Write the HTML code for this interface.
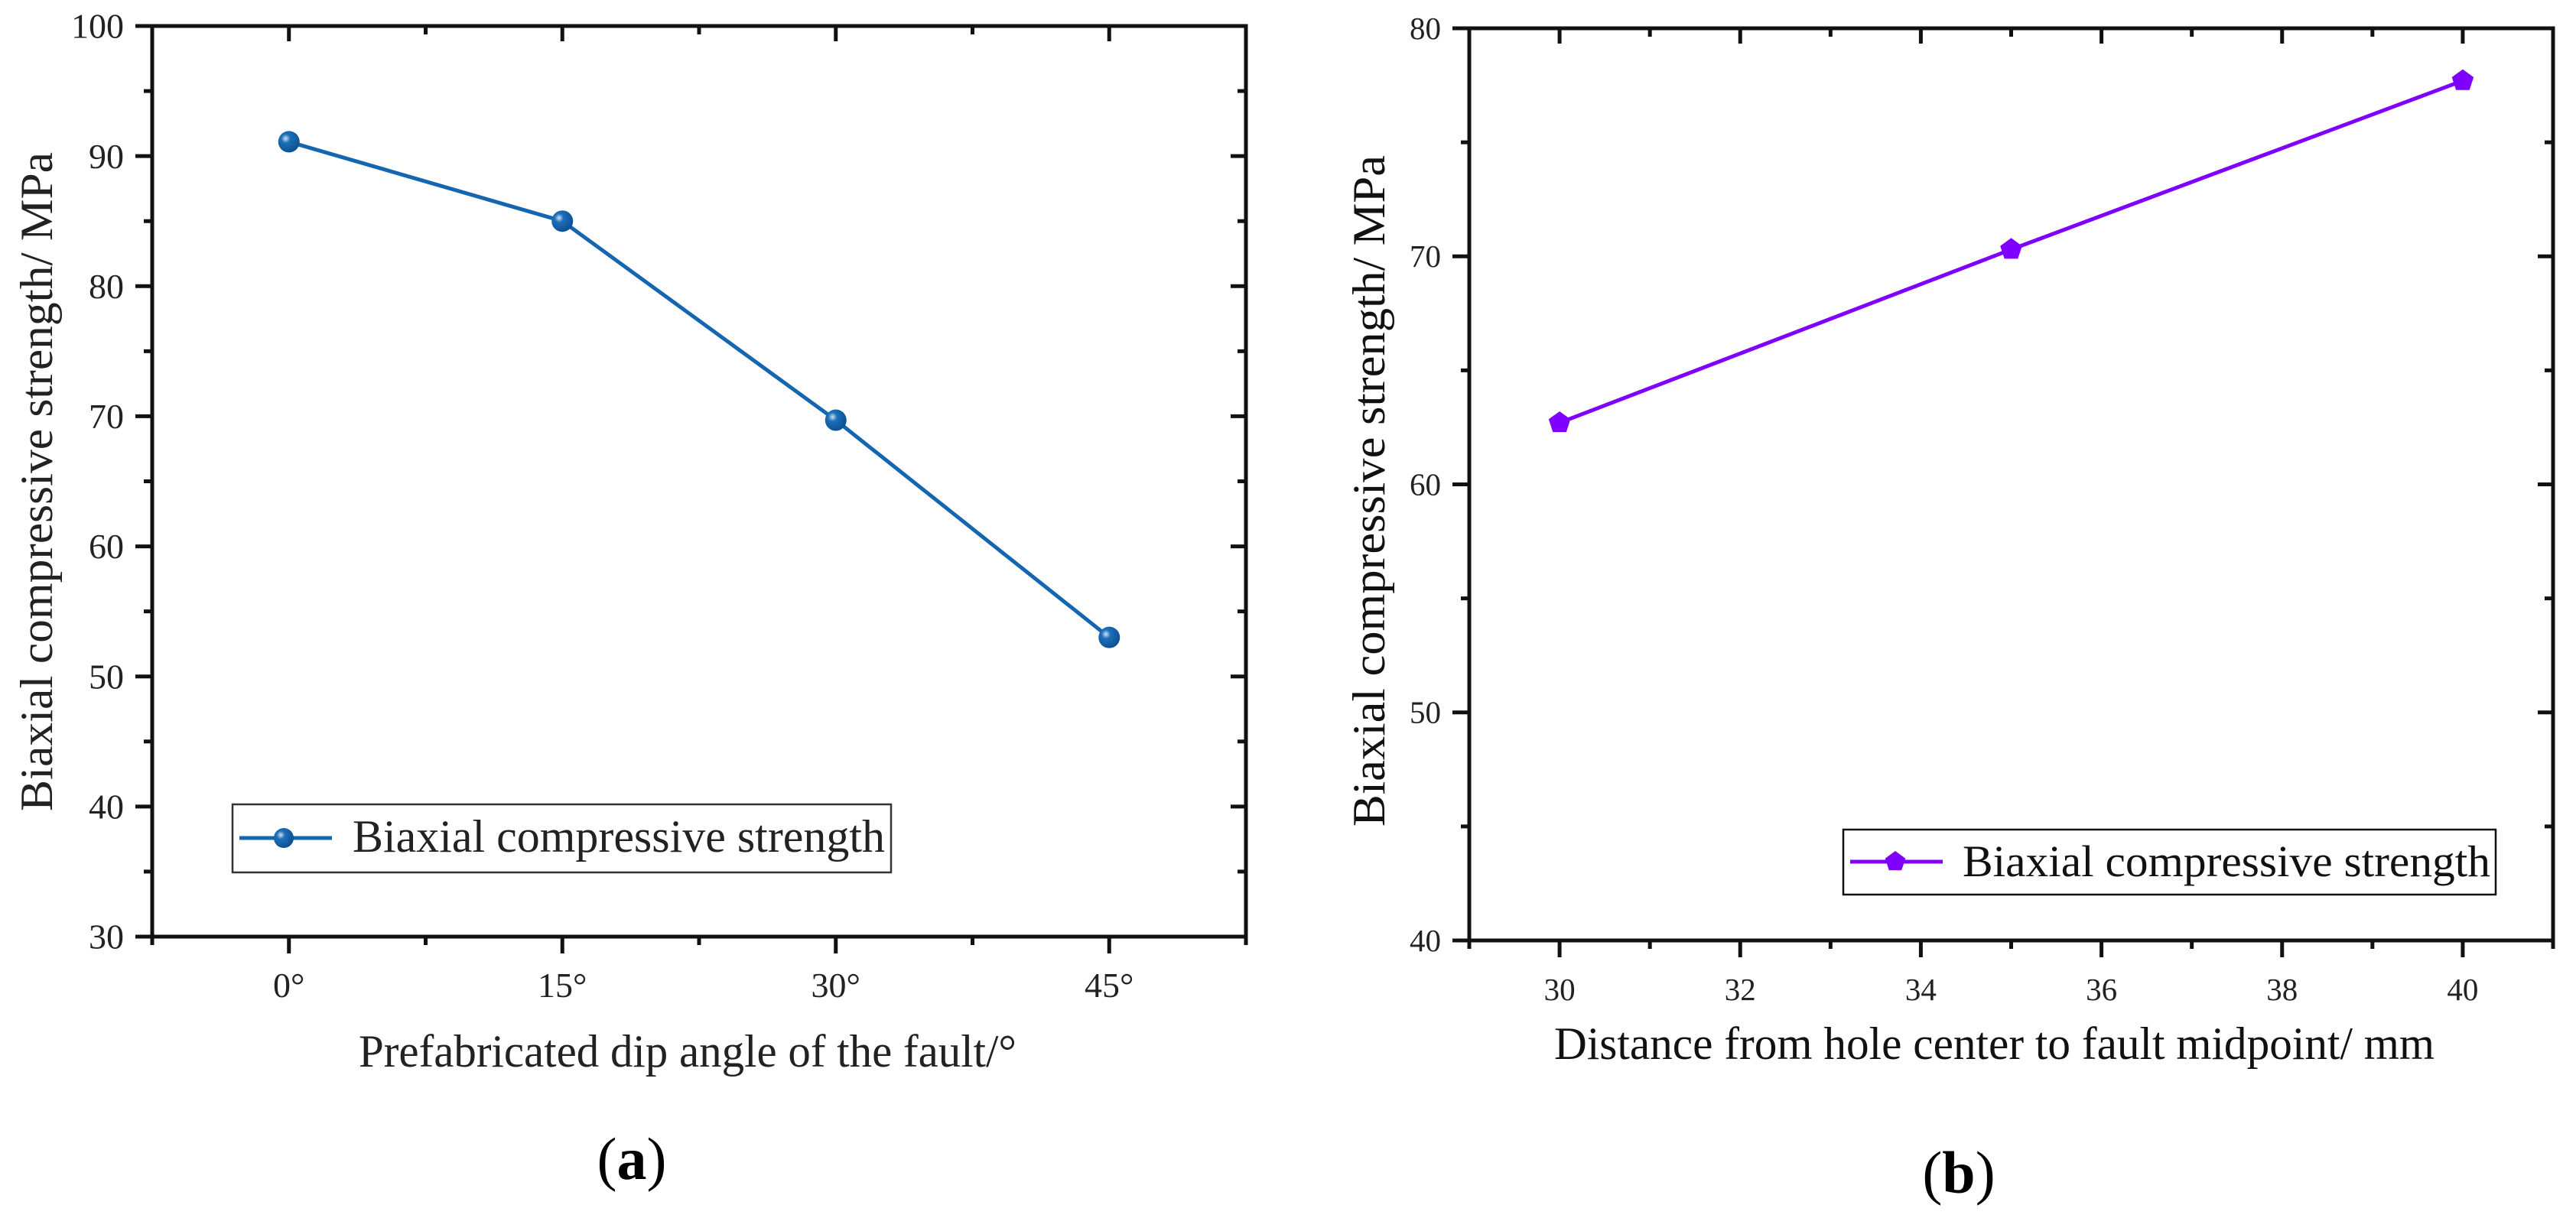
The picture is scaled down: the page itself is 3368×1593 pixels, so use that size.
<!DOCTYPE html>
<html><head><meta charset="utf-8"><style>
html,body{margin:0;padding:0;background:#fff;}
svg{display:block;font-family:"Liberation Serif","DejaVu Serif",serif;}
text{font-family:"Liberation Serif","DejaVu Serif",serif;}
</style></head><body>
<svg id="fig" width="3368" height="1593" viewBox="0 0 3368 1593" xmlns="http://www.w3.org/2000/svg">
<defs>
<radialGradient id="ball" cx="0.35" cy="0.35" r="0.7"><stop offset="0" stop-color="#cfe2f5"/><stop offset="0.3" stop-color="#1c6fb8"/><stop offset="1" stop-color="#0b4f90"/></radialGradient>
</defs>
<g id="chartA"></g>
<g id="chartB"></g>
<text x="826" y="1542" font-size="78" text-anchor="middle">(<tspan font-weight="bold">a</tspan>)</text>
<text x="2561" y="1560" font-size="78" text-anchor="middle">(<tspan font-weight="bold">b</tspan>)</text>
</svg>
<script>
// Chart A data
const catsA = ["0°","15°","30°","45°"];
const catValsA = [0,15,30,45];
const seriesA = [91.1,85.0,69.7,53.0];
const yTicksA = [30,40,50,60,70,80,90,100];
// Chart B data
const catsB = [30,35,40];
const seriesB = [62.7,70.3,77.7];
const xTicksB = [30,32,34,36,38,40];
const yTicksB = [40,50,60,70,80];

const NS="http://www.w3.org/2000/svg";
function mk(parent,tag,attrs){const e=document.createElementNS(NS,tag);for(const k in attrs)e.setAttribute(k,attrs[k]);parent.appendChild(e);return e;}

function drawFrame(g,L,R,T,B,xs,ys,xMajor,xMinor,yMajor,yMinor,xLab,yLab,fs,xlY,ylX){
  const f=mk(g,'rect',{x:L,y:T,width:R-L,height:B-T,fill:'none',stroke:'#111','stroke-width':5});
  
  
  xMinor.forEach(v=>{const x=xs(v);
    const t=mk(g,'line',{x1:x,y1:B,x2:x,y2:B+11,stroke:'#111','stroke-width':5});
    
    mk(g,'line',{x1:x,y1:T,x2:x,y2:T+11,stroke:'#111','stroke-width':5});});
  xMajor.forEach((v,i)=>{const x=xs(v);
    const t=mk(g,'line',{x1:x,y1:B,x2:x,y2:B+22,stroke:'#111','stroke-width':5});
    
    mk(g,'line',{x1:x,y1:T,x2:x,y2:T+20,stroke:'#111','stroke-width':5});
    const tx=mk(g,'text',{x:x,y:xlY,'font-size':fs,'text-anchor':'middle',fill:'#222'});
    tx.textContent=xLab[i];
    });
  yMinor.forEach(v=>{const y=ys(v);
    const t=mk(g,'line',{x1:L,y1:y,x2:L-11,y2:y,stroke:'#111','stroke-width':5});
    
    mk(g,'line',{x1:R,y1:y,x2:R-11,y2:y,stroke:'#111','stroke-width':5});});
  yMajor.forEach(v=>{const y=ys(v);
    const t=mk(g,'line',{x1:L,y1:y,x2:L-22,y2:y,stroke:'#111','stroke-width':5});
    
    mk(g,'line',{x1:R,y1:y,x2:R-20,y2:y,stroke:'#111','stroke-width':5});
    const tx=mk(g,'text',{x:ylX,y:y+fs*0.34,'font-size':fs,'text-anchor':'end',fill:'#222'});
    tx.textContent=v;
    });
}

// ---------- Chart A ----------
(function(){
  const g=document.getElementById('chartA');
  const L=199,R=1629,T=34,B=1225, x0=-7.5,x1=52.5,y0=30,y1=100;
  const xs=v=>L+(v-x0)/(x1-x0)*(R-L), ys=v=>B-(v-y0)/(y1-y0)*(B-T);
  const xMinor=[-7.5,7.5,22.5,37.5,52.5], yMinor=[35,45,55,65,75,85,95];
  drawFrame(g,L,R,T,B,xs,ys,catValsA,xMinor,yTicksA,yMinor,catsA,[],46,1304,162);
  const pts=catValsA.map((c,i)=>xs(c)+','+ys(seriesA[i])).join(' ');
  const pl=mk(g,'polyline',{points:pts,fill:'none',stroke:'#1466b0','stroke-width':5});
  
  catValsA.forEach((c,i)=>{const m=mk(g,'circle',{cx:xs(c),cy:ys(seriesA[i]),r:14,fill:'url(#ball)'});
    });
  const lg=mk(g,'g',{});
  
  mk(lg,'rect',{x:304,y:1052,width:861,height:89,fill:'#fff',stroke:'#333','stroke-width':2.5});
  mk(lg,'line',{x1:313,y1:1096,x2:434,y2:1096,stroke:'#1466b0','stroke-width':5});
  mk(lg,'circle',{cx:371,cy:1096,r:13,fill:'url(#ball)'});
  const lt=mk(lg,'text',{x:461,y:1114,'font-size':60,textLength:696,lengthAdjust:'spacingAndGlyphs',fill:'#222'});
  lt.textContent='Biaxial compressive strength';
  const xt=mk(g,'text',{x:469,y:1395,'font-size':60,textLength:860,lengthAdjust:'spacingAndGlyphs',fill:'#222'});
  xt.textContent='Prefabricated dip angle of the fault/°';
  
  const yt=mk(g,'text',{x:0,y:0,'font-size':60,textLength:862,lengthAdjust:'spacingAndGlyphs','text-anchor':'middle',fill:'#222',transform:'translate(68,630) rotate(-90)'});
  yt.textContent='Biaxial compressive strength/ MPa';
  
})();

// ---------- Chart B ----------
(function(){
  const g=document.getElementById('chartB');
  const L=1921,R=3338,T=37,B=1230, x0=29,x1=41,y0=40,y1=80;
  const xs=v=>L+(v-x0)/(x1-x0)*(R-L), ys=v=>B-(v-y0)/(y1-y0)*(B-T);
  const xMinor=[29,31,33,35,37,39,41], yMinor=[45,55,65,75];
  drawFrame(g,L,R,T,B,xs,ys,xTicksB,xMinor,yTicksB,yMinor,xTicksB,[],41,1308,1884);
  const pts=catsB.map((c,i)=>xs(c)+','+ys(seriesB[i])).join(' ');
  const pl=mk(g,'polyline',{points:pts,fill:'none',stroke:'#8000ff','stroke-width':5});
  
  function pent(cx,cy,r){let p=[];for(let k=0;k<5;k++){const a=-Math.PI/2+k*2*Math.PI/5;p.push((cx+r*Math.cos(a)).toFixed(1)+','+(cy+r*Math.sin(a)).toFixed(1));}return p.join(' ');}
  catsB.forEach((c,i)=>{const m=mk(g,'polygon',{points:pent(xs(c),ys(seriesB[i]),15),fill:'#8000ff'});
    });
  const lg=mk(g,'g',{});
  
  mk(lg,'rect',{x:2410,y:1085,width:853,height:85,fill:'#fff',stroke:'#111','stroke-width':2.5});
  mk(lg,'line',{x1:2419,y1:1127,x2:2540,y2:1127,stroke:'#8000ff','stroke-width':5});
  mk(lg,'polygon',{points:pent(2478,1127,14),fill:'#8000ff'});
  const lt=mk(lg,'text',{x:2566,y:1146,'font-size':58,textLength:690,lengthAdjust:'spacingAndGlyphs',fill:'#111'});
  lt.textContent='Biaxial compressive strength';
  const xt=mk(g,'text',{x:2032,y:1385,'font-size':60,textLength:1151,lengthAdjust:'spacingAndGlyphs',fill:'#111'});
  xt.textContent='Distance from hole center to fault midpoint/ mm';
  
  const yt=mk(g,'text',{x:0,y:0,'font-size':60,textLength:878,lengthAdjust:'spacingAndGlyphs','text-anchor':'middle',fill:'#111',transform:'translate(1810,642) rotate(-90)'});
  yt.textContent='Biaxial compressive strength/ MPa';
  
})();
</script>
</body></html>
